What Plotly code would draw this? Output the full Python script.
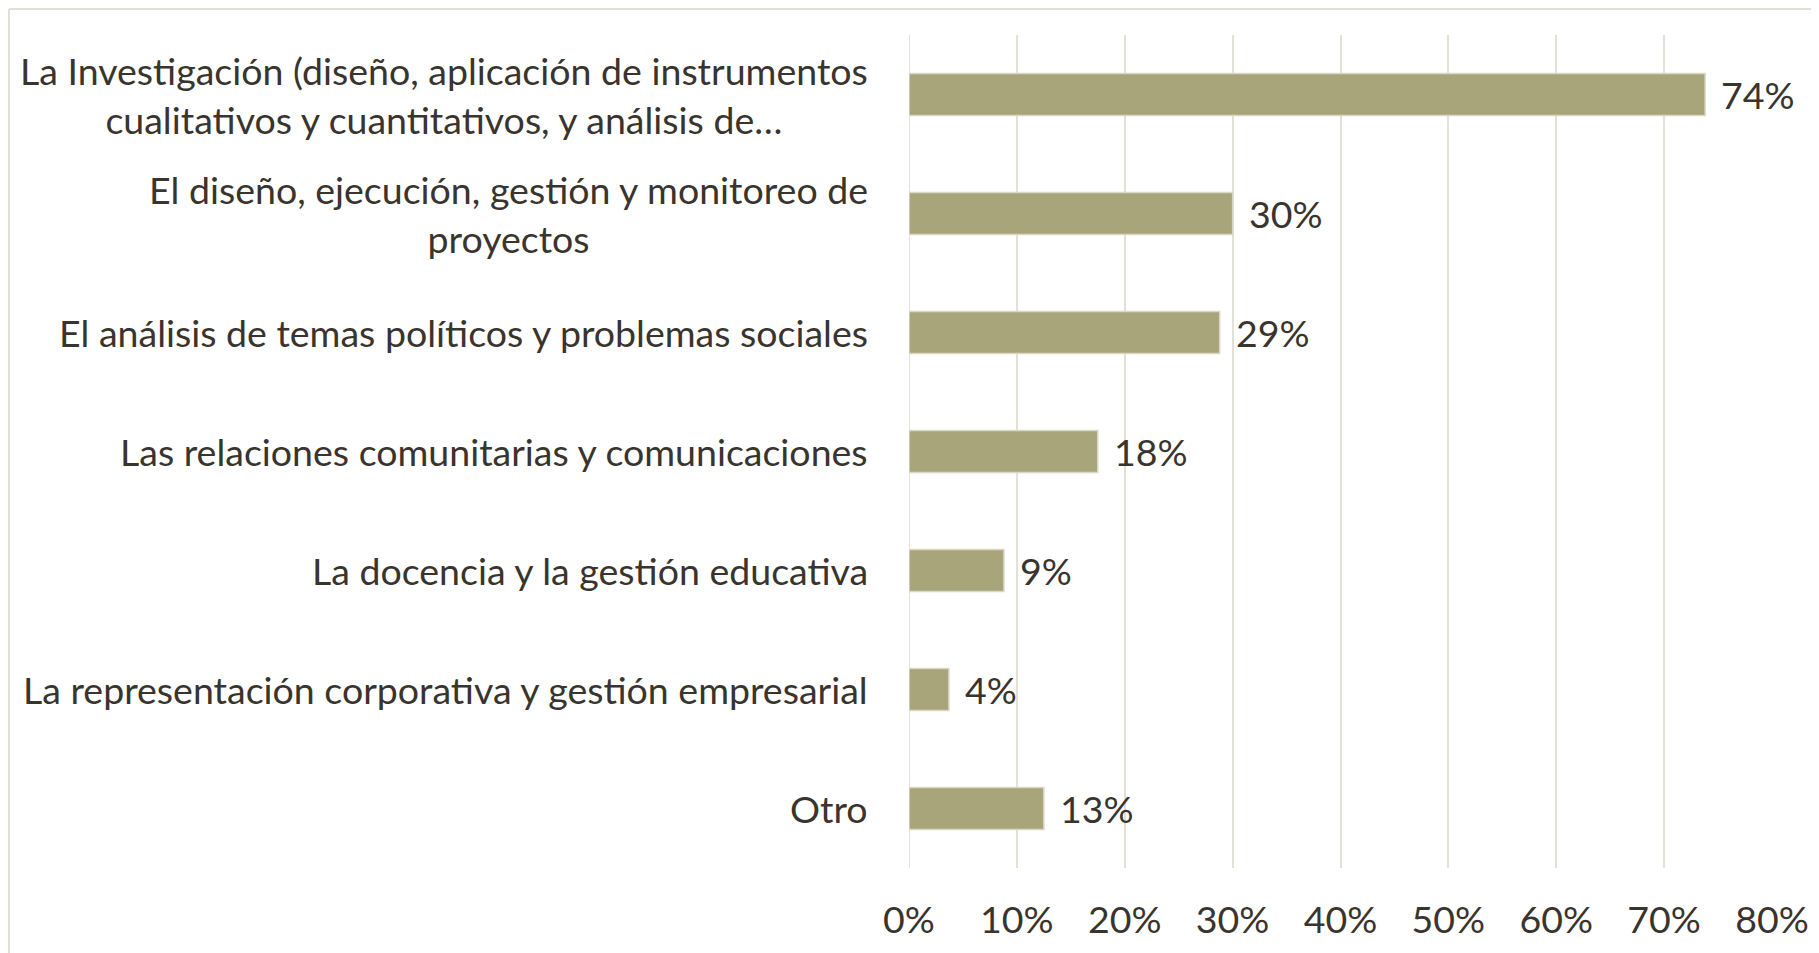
import plotly.graph_objects as go

categories = [
    "La Investigación (diseño, aplicación de instrumentos<br>cualitativos y cuantitativos, y análisis de…",
    "El diseño, ejecución, gestión y monitoreo de<br>proyectos",
    "El análisis de temas políticos y problemas sociales",
    "Las relaciones comunitarias y comunicaciones",
    "La docencia y la gestión educativa",
    "La representación corporativa y gestión empresarial",
    "Otro",
]
values = [0.738, 0.300, 0.288, 0.175, 0.088, 0.037, 0.125]
value_labels = ["74%", "30%", "29%", "18%", "9%", "4%", "13%"]
x_ticks = [0, 0.1, 0.2, 0.3, 0.4, 0.5, 0.6, 0.7, 0.8]
x_tick_labels = ["0%", "10%", "20%", "30%", "40%", "50%", "60%", "70%", "80%"]

FONT = "Lato"
TXT = "#39342d"
BAR = "#a8a57b"
GRID = "#e3e0d8"
FS = 37.5

W, H = 1811, 945
L, T = 901, 27
PW, PH = 863, 833

fig = go.Figure()
fig.add_trace(go.Bar(
    y=categories, x=values, orientation="h",
    marker=dict(color=BAR, line=dict(color="#dad7c4", width=1.5)),
    hoverinfo="skip",
))

annotations = []
for c, v, t in zip(categories, values, value_labels):
    annotations.append(dict(x=v, y=c, xref="x", yref="y", text=t, showarrow=False,
                            xanchor="left", xshift=14, font=dict(family=FONT, size=FS, color=TXT)))
    annotations.append(dict(x=0, y=c, xref="paper", yref="y", text=c, showarrow=False,
                            xanchor="right", xshift=-39, align="center",
                            font=dict(family=FONT, size=FS, color=TXT)))

bx = (1 - L) / PW
by = 1 + (T - 1) / PH

fig.update_layout(
    width=W, height=H,
    margin=dict(l=L, r=W - L - PW, t=T, b=H - T - PH, autoexpand=False),
    paper_bgcolor="white", plot_bgcolor="white",
    bargap=0.647,
    showlegend=False,
    annotations=annotations,
    shapes=[
        dict(type="line", xref="paper", yref="paper", x0=bx, x1=bx, y0=by, y1=-0.2,
             line=dict(color="#e2ded8", width=2)),
        dict(type="line", xref="paper", yref="paper", x0=bx, x1=1.2, y0=by, y1=by,
             line=dict(color="#e2ded8", width=2)),
    ],
)
fig.update_xaxes(
    range=[0, 0.8], tickvals=x_ticks, ticktext=x_tick_labels, automargin=False,
    showgrid=True, gridcolor=GRID, gridwidth=2, zeroline=False,
    showline=False, ticks="outside", ticklen=19, tickcolor="rgba(0,0,0,0)",
    tickfont=dict(family=FONT, size=FS, color=TXT),
)
fig.update_yaxes(
    categoryorder="array", categoryarray=categories[::-1], automargin=False,
    showticklabels=False, showgrid=False, zeroline=False, showline=False,
)
fig.add_vline(x=0, line=dict(color=GRID, width=2), layer="below")

fig.write_html("out.html")
